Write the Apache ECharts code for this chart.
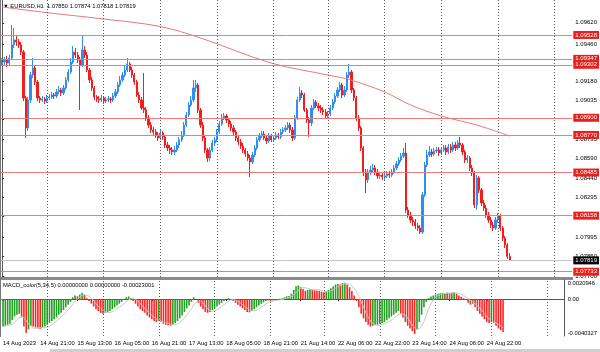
<!DOCTYPE html>
<html><head><meta charset="utf-8">
<script src="https://cdn.jsdelivr.net/npm/echarts@6/dist/echarts.min.js"></script>
<style>html,body{margin:0;padding:0;background:#fff}#c{width:600px;height:352px}</style>
</head><body><div id="c"></div><script>
// ---------------- DATA ----------------
const symbolName = 'EURUSD,H1';
const firstOpen = 1.09308;
const closes = [1.09323,1.09338,1.09315,1.09353,1.09452,1.09490,1.09475,1.09452,1.09399,1.09050,
 1.08823,1.09035,1.09224,1.09278,1.09171,1.09050,1.09035,1.09043,1.09027,1.09050,
 1.09058,1.09073,1.09065,1.09096,1.09111,1.09088,1.09126,1.09187,1.09247,1.09323,
 1.09399,1.09376,1.09338,1.09300,1.09414,1.09376,1.09262,1.09187,1.09126,1.09058,
 1.09043,1.09035,1.09050,1.09027,1.09035,1.09043,1.09035,1.09065,1.09096,1.09149,
 1.09187,1.09224,1.09262,1.09308,1.09262,1.09224,1.09171,1.09073,1.09035,1.08974,
 1.08959,1.08899,1.08845,1.08808,1.08792,1.08770,1.08747,1.08785,1.08755,1.08694,
 1.08671,1.08656,1.08641,1.08656,1.08694,1.08732,1.08770,1.08845,1.08921,1.08997,
 1.09035,1.09126,1.09149,1.08959,1.08845,1.08747,1.08656,1.08595,1.08656,1.08709,
 1.08732,1.08792,1.08853,1.08899,1.08914,1.08883,1.08853,1.08823,1.08792,1.08747,
 1.08717,1.08686,1.08656,1.08626,1.08595,1.08565,1.08618,1.08671,1.08732,1.08762,
 1.08777,1.08747,1.08724,1.08762,1.08732,1.08747,1.08770,1.08755,1.08792,1.08808,
 1.08823,1.08845,1.08808,1.08747,1.08899,1.09035,1.09088,1.09073,1.08959,1.08883,
 1.08861,1.08974,1.09020,1.08990,1.08974,1.08959,1.08944,1.08914,1.08929,1.08974,
 1.09020,1.09065,1.09111,1.09149,1.09073,1.09111,1.09224,1.09247,1.09111,1.09050,
 1.08899,1.08823,1.08671,1.08489,1.08429,1.08489,1.08504,1.08519,1.08489,1.08459,
 1.08466,1.08451,1.08459,1.08474,1.08466,1.08489,1.08519,1.08550,1.08580,1.08610,
 1.08633,1.08201,1.08163,1.08125,1.08110,1.08080,1.08065,1.08034,1.08315,1.08542,
 1.08618,1.08641,1.08626,1.08648,1.08656,1.08633,1.08656,1.08671,1.08641,1.08679,
 1.08656,1.08694,1.08671,1.08709,1.08694,1.08641,1.08580,1.08595,1.08519,1.08482,
 1.08239,1.08444,1.08353,1.08254,1.08216,1.08163,1.08125,1.08087,1.08065,1.08125,
 1.08156,1.08065,1.07989,1.07936,1.07850,1.07819];
const highs = [1.09353,1.09361,1.09369,1.09376,1.09604,1.09581,1.09520,1.09497,1.09475,1.09414,
 1.09065,1.09058,1.09247,1.09353,1.09293,1.09187,1.09065,1.09065,1.09058,1.09073,
 1.09080,1.09096,1.09088,1.09118,1.09141,1.09126,1.09149,1.09209,1.09270,1.09353,
 1.09444,1.09429,1.09399,1.09361,1.09528,1.09444,1.09399,1.09278,1.09209,1.09141,
 1.09073,1.09065,1.09073,1.09065,1.09058,1.09065,1.09058,1.09088,1.09118,1.09171,
 1.09217,1.09247,1.09293,1.09353,1.09323,1.09285,1.09240,1.09187,1.09096,1.09058,
 1.09240,1.08982,1.08921,1.08868,1.08830,1.08815,1.08792,1.08808,1.08800,1.08770,
 1.08717,1.08694,1.08679,1.08686,1.08717,1.08755,1.08800,1.08868,1.08944,1.09020,
 1.09065,1.09187,1.09187,1.09164,1.08974,1.08868,1.08770,1.08671,1.08679,1.08732,
 1.08755,1.08815,1.08876,1.08929,1.08936,1.08929,1.08899,1.08876,1.08845,1.08808,
 1.08770,1.08739,1.08709,1.08671,1.08648,1.08618,1.08641,1.08694,1.08755,1.08785,
 1.08800,1.08800,1.08770,1.08785,1.08777,1.08770,1.08792,1.08785,1.08815,1.08830,
 1.08845,1.08868,1.08861,1.08830,1.08921,1.09058,1.09134,1.09111,1.09088,1.08974,
 1.08906,1.08997,1.09043,1.09035,1.09012,1.08997,1.08982,1.08967,1.08952,1.08997,
 1.09043,1.09088,1.09134,1.09171,1.09164,1.09141,1.09247,1.09308,1.09262,1.09126,
 1.09065,1.08921,1.08838,1.08686,1.08512,1.08512,1.08535,1.08550,1.08542,1.08512,
 1.08489,1.08482,1.08482,1.08497,1.08497,1.08512,1.08542,1.08573,1.08603,1.08633,
 1.08671,1.08709,1.08224,1.08186,1.08148,1.08133,1.08103,1.08087,1.08338,1.08565,
 1.08656,1.08686,1.08664,1.08671,1.08679,1.08679,1.08679,1.08694,1.08694,1.08701,
 1.08701,1.08717,1.08717,1.08732,1.08755,1.08709,1.08656,1.08618,1.08610,1.08542,
 1.08497,1.08466,1.08459,1.08368,1.08277,1.08239,1.08186,1.08148,1.08110,1.08148,
 1.08179,1.08171,1.08080,1.08004,1.07951,1.07874];
const lows = [1.09293,1.09300,1.09285,1.09293,1.09338,1.09429,1.09444,1.09429,1.09376,1.09027,
 1.08747,1.08800,1.09012,1.09202,1.09149,1.09027,1.09012,1.09020,1.09005,1.09012,
 1.09035,1.09043,1.09043,1.09050,1.09080,1.09065,1.09073,1.09111,1.09171,1.09232,
 1.09308,1.09353,1.09315,1.08959,1.09285,1.09353,1.09247,1.09164,1.09103,1.09035,
 1.09020,1.09012,1.09020,1.09005,1.09012,1.09020,1.09012,1.09020,1.09050,1.09080,
 1.09134,1.09171,1.09209,1.09247,1.09247,1.09202,1.09149,1.09058,1.09012,1.08959,
 1.08936,1.08876,1.08823,1.08785,1.08770,1.08747,1.08724,1.08732,1.08732,1.08671,
 1.08648,1.08626,1.08618,1.08618,1.08641,1.08671,1.08717,1.08755,1.08830,1.08906,
 1.08982,1.09020,1.09096,1.08936,1.08823,1.08724,1.08633,1.08565,1.08573,1.08641,
 1.08686,1.08717,1.08777,1.08838,1.08883,1.08861,1.08830,1.08800,1.08770,1.08724,
 1.08694,1.08664,1.08633,1.08603,1.08573,1.08451,1.08550,1.08603,1.08656,1.08717,
 1.08747,1.08732,1.08701,1.08709,1.08717,1.08717,1.08732,1.08739,1.08739,1.08777,
 1.08792,1.08808,1.08785,1.08724,1.08732,1.08883,1.09020,1.09050,1.08944,1.08861,
 1.08755,1.08838,1.08959,1.08974,1.08952,1.08936,1.08921,1.08891,1.08891,1.08914,
 1.08959,1.09005,1.09050,1.09096,1.09050,1.09058,1.09096,1.09202,1.09088,1.09027,
 1.08876,1.08800,1.08648,1.08459,1.08330,1.08406,1.08466,1.08482,1.08466,1.08436,
 1.08436,1.08429,1.08429,1.08444,1.08444,1.08451,1.08474,1.08504,1.08535,1.08565,
 1.08595,1.08179,1.08141,1.08103,1.08080,1.08057,1.08042,1.08019,1.08019,1.08300,
 1.08527,1.08603,1.08603,1.08610,1.08633,1.08610,1.08618,1.08641,1.08618,1.08626,
 1.08633,1.08641,1.08648,1.08656,1.08671,1.08618,1.08557,1.08557,1.08497,1.08459,
 1.08216,1.08201,1.08330,1.08232,1.08194,1.08141,1.08103,1.08065,1.08042,1.08050,
 1.08103,1.08042,1.07966,1.07913,1.07830,1.07818];
// moving average (red curve), read at a few bars
const maBars   = [0, 19, 43, 67, 84, 114, 138, 147, 162, 173, 186, 201, 210, 215];
const maValues = [1.09740,1.09697,1.09649,1.09592,1.09505,1.09315,1.09224,1.09190,1.09096,1.08997,1.08914,1.08845,1.08793,1.08762];
// MACD histogram
const macdHist = [-0.0030,-0.0029,-0.0028,-0.0027,-0.0023,-0.0019,-0.0017,-0.0016,-0.0020,-0.0030,
 -0.0037,-0.0033,-0.0029,-0.0030,-0.0031,-0.0032,-0.00325,-0.0031,-0.0030,-0.0028,
 -0.0026,-0.0024,-0.0022,-0.0020,-0.0017,-0.0015,-0.0012,-0.0009,-0.0006,-0.0003,
 0.0002,0.0004,0.0003,0.0005,0.0007,0.0005,0.0001,-0.0002,-0.0005,-0.0008,
 -0.0011,-0.0013,-0.0015,-0.0016,-0.0015,-0.0014,-0.0013,-0.0011,-0.0009,-0.0007,
 -0.0005,-0.0003,-0.0001,0.0002,0.0003,0.0001,-0.0002,-0.0005,-0.0008,-0.0011,
 -0.0013,-0.0015,-0.0018,-0.0020,-0.0022,-0.0024,-0.0025,-0.0024,-0.0025,-0.0027,
 -0.0028,-0.00285,-0.0029,-0.0028,-0.0026,-0.0024,-0.0021,-0.0018,-0.0014,-0.0010,
 -0.0007,-0.0003,0.0002,0.0000,-0.0004,-0.0008,-0.0011,-0.0014,-0.0015,-0.0014,
 -0.0012,-0.0010,-0.0008,-0.0006,-0.0004,-0.0002,0.0000,0.0001,0.0000,-0.0002,
 -0.0004,-0.0006,-0.0008,-0.0010,-0.0012,-0.0014,-0.00145,-0.0013,-0.0011,-0.0009,
 -0.0007,-0.0005,-0.00035,-0.0002,-0.00015,-0.0002,-0.00015,-0.0001,-0.00005,0.00005,
 0.0001,0.0002,0.0003,0.00035,0.0006,0.0010,0.0014,0.0015,0.0013,0.0011,
 0.0009,0.0010,0.0011,0.00105,0.0010,0.00095,0.0009,0.0008,0.00075,0.0008,
 0.0010,0.0012,0.0014,0.0016,0.00165,0.0016,0.00175,0.0018,0.0016,0.0013,
 0.0009,0.0004,-0.0002,-0.0009,-0.0016,-0.0021,-0.0025,-0.0028,-0.0030,-0.0029,
 -0.00285,-0.0028,-0.0027,-0.0026,-0.0025,-0.0023,-0.0021,-0.0019,-0.0017,-0.0015,
 -0.0013,-0.0016,-0.0020,-0.0025,-0.0029,-0.0032,-0.0035,-0.0038,-0.0033,-0.0025,
 -0.0017,-0.0009,-0.0003,0.0001,0.0003,0.0004,0.0005,0.0006,0.00065,0.0007,
 0.00065,0.0007,0.00065,0.0007,0.00075,0.0006,0.0004,0.00025,0.0001,-0.0001,
 -0.0004,-0.0006,-0.0005,-0.0009,-0.0013,-0.0016,-0.0019,-0.0022,-0.0025,-0.0026,
 -0.0025,-0.0026,-0.0029,-0.0032,-0.0034,-0.0036];
// horizontal price levels (red lines with boxed labels)
const levels = [1.09528, 1.09347, 1.09302, 1.08900, 1.08770, 1.08485, 1.08158, 1.07733];
// price-axis tick labels
const priceTicks = [1.09620,1.09460,1.09325,1.09180,1.09035,1.08890,1.08735,1.08590,1.08440,1.08295,1.08150,1.07995,1.07850,1.07700];
const priceMin = 1.07693, priceMax = 1.09793;
const macdTicks = [-0.0040327, 0, 0.0020946];
const macdMin = -0.0040327, macdMax = 0.0020946;
// time-axis labels, one every 16 bars
const timeLabels = ['14 Aug 2023','14 Aug 21:00','15 Aug 13:00','16 Aug 05:00','16 Aug 21:00','17 Aug 13:00','18 Aug 05:00','18 Aug 21:00','21 Aug 14:00','22 Aug 06:00','22 Aug 22:00','23 Aug 14:00','24 Aug 06:00','24 Aug 22:00'];
const labelEvery = 16;
// bars where a new trading day starts (vertical dotted grid)
const dayStartBars = [19, 43, 67, 91, 115, 138, 162, 186, 210, 234];
const totalSlots = 242; // bar slots visible on the time axis (incl. empty right side)

// ---------------- BUILD ----------------
const FONT = '"Liberation Sans",Arial,sans-serif';
const FS = 5.8;
const BULL = '#2f8ff0', BEAR = '#f01e1e';
const slots = Array.from({length: totalSlots}, (_, i) => i);
const opens = closes.map((c, i) => i === 0 ? firstOpen : closes[i - 1]);
const candleData = closes.map((c, i) => [opens[i], c, lows[i], highs[i]]);
let prevCol = '#22a022';
const histData = macdHist.map((v, i) => {
  if (i > 0) { if (v > macdHist[i-1]) prevCol = '#22a022'; else if (v < macdHist[i-1]) prevCol = '#ff2424'; }
  return {value: v, itemStyle: {color: prevCol}};
});
const signal = macdHist.map((v, i) => {
  const s = macdHist.slice(Math.max(0, i - 4), i + 1);
  return s.reduce((a, b) => a + b, 0) / s.length;
});
const last = closes.length - 1;
const lastClose = closes[last];
const titleText = '\u25BC ' + symbolName + '  ' + [opens[last], highs[last], lows[last], closes[last]].map(v => v.toFixed(5)).join(' ');
const labelInterval = (idx) => idx % labelEvery === 0 && idx / labelEvery < timeLabels.length;

const boxLabel = (txt, bg) => ({show: true, position: 'end', distance: 1, formatter: txt, color: '#fff',
  backgroundColor: bg, padding: [1, 2, 0, 2], fontSize: 6, lineHeight: 7, fontFamily: FONT});
const vLines = dayStartBars.map(b => ({xAxis: b, lineStyle: {color: '#5a5a5a', type: [1, 2], width: 1}, label: {show: false}}));

const chart = echarts.init(document.getElementById('c'), null, {renderer: 'canvas'});
chart.setOption({
  animation: false,
  backgroundColor: '#fff',
  textStyle: {fontFamily: FONT},
  grid: [
    {left: 1, right: 27, top: 0, height: 277},
    {left: 1, right: 27, top: 280, height: 56}
  ],
  xAxis: [
    {type: 'category', gridIndex: 0, data: slots, axisLine: {show: false}, axisTick: {show: false}, axisLabel: {show: false}, splitLine: {show: false}},
    {type: 'category', gridIndex: 1, data: slots,
     axisLine: {show: true, lineStyle: {color: '#555', width: 1}},
     axisTick: {show: true, alignWithLabel: true, interval: labelInterval, length: 2, lineStyle: {color: '#333'}},
     axisLabel: {interval: labelInterval, showMinLabel: true, formatter: (v, i) => timeLabels[i / labelEvery], align: 'left', fontSize: FS, color: '#000', margin: 4, fontFamily: FONT},
     splitLine: {show: false}},
    {type: 'value', gridIndex: 0, min: -0.5, max: totalSlots - 0.5, show: false}
  ],
  yAxis: [
    {type: 'value', gridIndex: 0, position: 'right', min: priceMin, max: priceMax, splitLine: {show: false},
     axisLine: {show: true, lineStyle: {color: '#555'}},
     axisTick: {show: true, length: 2, customValues: priceTicks, lineStyle: {color: '#333'}},
     axisLabel: {customValues: priceTicks, formatter: v => v.toFixed(5), fontSize: 6, color: '#000', margin: 3, fontFamily: FONT}},
    {type: 'value', gridIndex: 1, position: 'right', min: macdMin, max: macdMax, splitLine: {show: false},
     axisLine: {show: true, lineStyle: {color: '#555'}},
     axisTick: {show: false},
     axisLabel: {customValues: macdTicks, showMinLabel: true, showMaxLabel: true,
       formatter: v => Math.abs(v) < 1e-9 ? '0.00' : v.toFixed(7), fontSize: FS, color: '#000', margin: 3, fontFamily: FONT,
       verticalAlignMinLabel: 'bottom', verticalAlignMaxLabel: 'top'}}
  ],
  series: [
    {type: 'candlestick', xAxisIndex: 0, yAxisIndex: 0, data: candleData, barWidth: 1.7,
     itemStyle: {color: BULL, color0: BEAR, borderColor: BULL, borderColor0: BEAR, borderWidth: 1}},
    {type: 'line', xAxisIndex: 2, yAxisIndex: 0, data: maBars.map((b, i) => [b, maValues[i]]), smooth: 0.35,
     symbol: 'none', lineStyle: {color: '#ec7878', width: 1}, z: 3,
     markLine: {silent: true, symbol: ['none', 'none'], animation: false, precision: 5,
       data: [
         ...vLines,
         ...levels.map(v => ({yAxis: v, lineStyle: {color: '#f27a7a', width: 1, type: 'solid'}, label: boxLabel(v.toFixed(5), '#e8201c')})),
         {yAxis: lastClose, lineStyle: {color: '#c4c4c4', width: 1, type: 'solid'}, label: boxLabel(lastClose.toFixed(5), '#000')}
       ]}},
    {type: 'bar', xAxisIndex: 1, yAxisIndex: 1, data: histData, barWidth: 1.6,
     markLine: {silent: true, symbol: ['none', 'none'], animation: false, precision: 5, data: vLines}},
    {type: 'line', xAxisIndex: 1, yAxisIndex: 1, data: signal, symbol: 'none', lineStyle: {color: '#c8c8c8', width: 1}, z: 3}
  ],
  graphic: [
    {type: 'rect', shape: {x: 0, y: 277, width: 573, height: 3}, style: {fill: '#8a8a8a'}, silent: true},
    {type: 'rect', shape: {x: 0, y: 0, width: 1, height: 337}, style: {fill: '#777'}, silent: true},
    {type: 'rect', shape: {x: 50, y: 349, width: 550, height: 3}, style: {fill: '#cfcfcf'}, silent: true},
    {type: 'text', left: 3, top: 3, style: {text: titleText, font: FS + 'px ' + FONT, fill: '#000'}, silent: true},
    {type: 'text', left: 3, top: 282, style: {text: 'MACD_color(5,34,5) 0.00000000 0.00000000 -0.00023001', font: FS + 'px ' + FONT, fill: '#000'}, silent: true}
  ]
});
</script></body></html>
